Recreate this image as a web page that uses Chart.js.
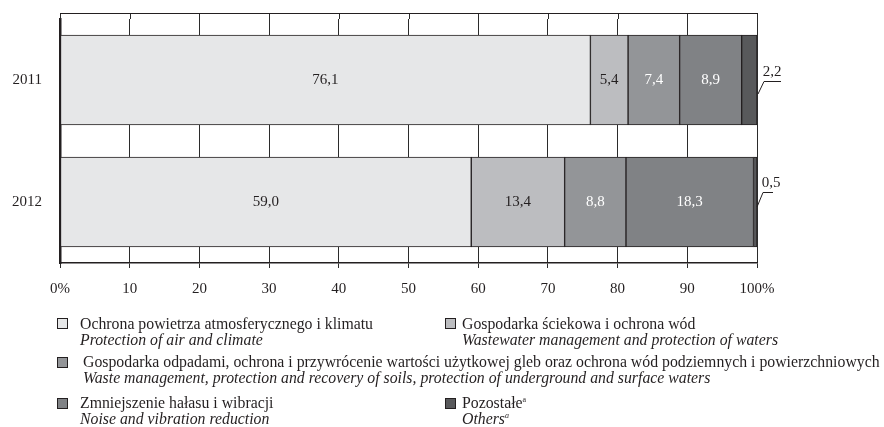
<!DOCTYPE html>
<html>
<head>
<meta charset="utf-8">
<script src="https://cdn.jsdelivr.net/npm/chart.js@4"></script>
<style>
body{margin:0;background:#fff;}
#wrap{position:relative;width:884px;height:427px;overflow:hidden;}
#legend{position:absolute;left:0;top:0;font-family:"Liberation Serif",serif;font-size:15.8px;color:#231f20;}
.item{position:absolute;line-height:16px;white-space:nowrap;}
.item i{display:block;}
.sq{position:absolute;width:9px;height:9px;border:1px solid #231f20;}
</style>
</head>
<body>
<div id="wrap">
<canvas id="chart" width="884" height="427"></canvas>
<div id="legend"></div>
</div>
<script>
const years=['2011','2012'];
const seriesPl=['Ochrona powietrza atmosferycznego i klimatu','Gospodarka ściekowa i ochrona wód','Gospodarka odpadami, ochrona i przywrócenie wartości użytkowej gleb oraz ochrona wód podziemnych i powierzchniowych','Zmniejszenie hałasu i wibracji','Pozostałe'];
const seriesEn=['Protection of air and climate','Wastewater management and protection of waters','Waste management, protection and recovery of soils, protection of underground and surface waters','Noise and vibration reduction','Others'];
const air=[76.1,59.0];
const wastewater=[5.4,13.4];
const waste=[7.4,8.8];
const noise=[8.9,18.3];
const others=[2.2,0.5];
const xTicks=['0%','10','20','30','40','50','60','70','80','90','100%'];

const colors=['#e6e7e8','#bcbdc0','#939598','#808285','#58595b'];
const labelColors=['#231f20','#231f20','#ffffff','#ffffff','#231f20'];
const allData=[air,wastewater,waste,noise,others];
// leader line offsets for the small "others" labels, per year: [start, corner, end, text]
const leaders=[
  [[1,14],[7,1],[24,1],[15,-8]],
  [[0,5],[6,-10],[16,-10],[14,-19]]
];

const fmt=v=>v.toFixed(1).replace('.',',');

const labelPlugin={
  id:'labels',
  beforeDatasetsDraw(chart){
    const {ctx,chartArea:a,scales:{x}}=chart;
    const top=a.top-6;
    ctx.save();ctx.strokeStyle='#2b2b2b';ctx.lineWidth=1;
    ctx.beginPath();
    x.ticks.forEach(t=>{const px=Math.round(x.getPixelForValue(t.value))+0.5;ctx.moveTo(px,top);ctx.lineTo(px,a.top);});
    ctx.stroke();
    ctx.strokeStyle='#231f20';
    ctx.beginPath();ctx.moveTo(a.left,top+0.5);ctx.lineTo(a.right+1,top+0.5);ctx.stroke();
    ctx.restore();
  },
  afterDatasetsDraw(chart){
    const ctx=chart.ctx;
    ctx.save();
    ctx.font='15px "Liberation Serif", serif';
    ctx.textAlign='center';ctx.textBaseline='middle';
    chart.data.datasets.forEach((ds,i)=>{
      const meta=chart.getDatasetMeta(i);
      meta.data.forEach((bar,j)=>{
        const v=ds.data[j];
        if(i===4){
          const x=bar.x, y=bar.y, L=leaders[j];
          ctx.strokeStyle='#231f20';ctx.lineWidth=1;
          ctx.beginPath();ctx.moveTo(x+L[0][0],y+L[0][1]);ctx.lineTo(x+L[1][0],y+L[1][1]+0.5);ctx.lineTo(x+L[2][0],y+L[2][1]+0.5);ctx.stroke();
          ctx.fillStyle='#231f20';
          ctx.fillText(fmt(v),x+L[3][0],y+L[3][1]);
        }else{
          ctx.fillStyle=labelColors[i];
          ctx.fillText(fmt(v),(bar.x+bar.base)/2,bar.y);
        }
      });
    });
    ctx.restore();
  }
};

new Chart(document.getElementById('chart'),{
  type:'bar',
  data:{
    labels:years,
    datasets:allData.map((d,i)=>({label:seriesPl[i],data:d,backgroundColor:colors[i],borderColor:'#231f20',borderWidth:1,barThickness:90,borderSkipped:false}))
  },
  options:{
    indexAxis:'y',
    responsive:false,
    animation:false,
    layout:{padding:{left:10,right:127,top:19,bottom:130}},
    plugins:{legend:{display:false},tooltip:{enabled:false}},
    scales:{
      x:{
        stacked:true,min:0,max:100,
        afterFit:s=>{s.height=34;},
        ticks:{stepSize:10,color:'#231f20',padding:12,font:{family:'"Liberation Serif", serif',size:15},callback:(v,i)=>xTicks[i]},
        grid:{color:'#2b2b2b',lineWidth:1,tickLength:5},
        border:{color:'#231f20',width:1.5}
      },
      y:{
        stacked:true,
        afterFit:s=>{s.width=50;s.paddingTop=0;s.paddingBottom=0;},
        ticks:{color:'#231f20',padding:18,font:{family:'"Liberation Serif", serif',size:15}},
        grid:{display:false,drawTicks:false},
        border:{color:'#231f20',width:2.5}
      }
    }
  },
  plugins:[labelPlugin]
});

// legend
const pos=[
  {sx:57,sy:318,tx:80,ty:316},
  {sx:445,sy:318,tx:462,ty:316},
  {sx:57,sy:357,tx:83,ty:354},
  {sx:57,sy:398,tx:80,ty:395},
  {sx:445,sy:398,tx:462,ty:395}
];
const lg=document.getElementById('legend');
pos.forEach((p,i)=>{
  const sup=i===4?'<sup style="font-size:8px;line-height:0">a</sup>':'';
  lg.insertAdjacentHTML('beforeend',`<div class="sq" style="left:${p.sx}px;top:${p.sy}px;background:${colors[i]}"></div><div class="item" style="left:${p.tx}px;top:${p.ty}px">${seriesPl[i]}${sup}<i>${seriesEn[i]}${sup}</i></div>`);
});
</script>
</body>
</html>
